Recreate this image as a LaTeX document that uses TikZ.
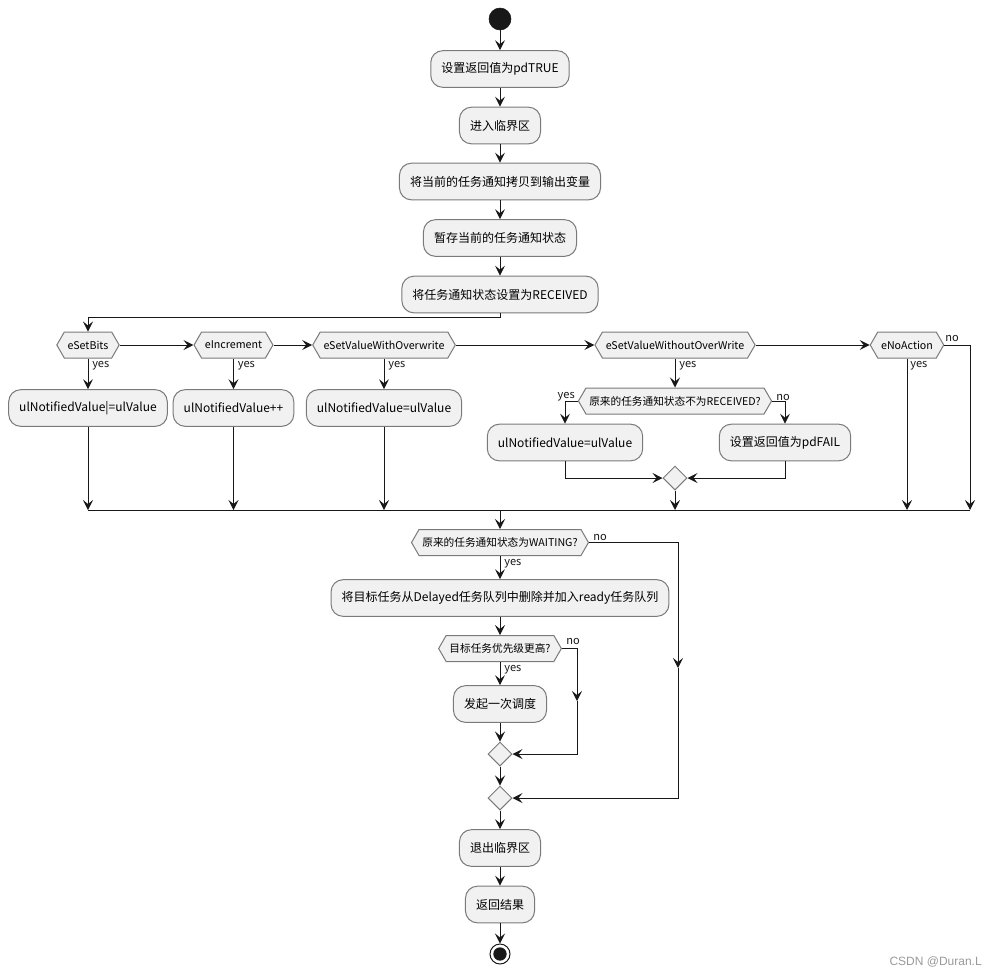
\documentclass[tikz,border=0pt]{standalone}
\usepackage{fontspec}
\setmainfont{Noto Sans CJK SC}
\newfontfamily\wmfont{Liberation Sans}
\usetikzlibrary{shapes.symbols,shapes.geometric,arrows.meta}
\definecolor{boxfill}{HTML}{F1F1F1}
\definecolor{boxline}{HTML}{7A7A7A}
\definecolor{lineclr}{HTML}{181818}
\definecolor{wmclr}{HTML}{9A9A9A}
\begin{document}
\begin{tikzpicture}[x=0.75pt,y=-0.75pt,
  >={Stealth[length=7.5pt,width=7.5pt,inset=3pt]},
  flow/.style={draw=lineclr,line width=0.75pt},
  act/.style={draw=boxline,fill=boxfill,rounded corners=9pt,line width=0.75pt,minimum height=27.5pt,inner xsep=7.9pt,inner ysep=0pt,font=\fontsize{9pt}{11pt}\selectfont},
  hexa/.style={shape=signal,signal to=east and west,signal pointer angle=120,draw=boxline,fill=boxfill,line width=0.75pt,minimum height=19.5pt,inner xsep=2.5pt,inner ysep=0pt,font=\fontsize{8pt}{10pt}\selectfont},
  merge/.style={shape=diamond,aspect=1,draw=boxline,fill=boxfill,line width=0.75pt,minimum width=18pt,minimum height=18pt,inner sep=0pt},
  lbl/.style={inner sep=0pt,font=\fontsize{8.3pt}{10pt}\selectfont,text=lineclr},
  startdot/.style={circle,fill=lineclr,draw=lineclr,minimum size=16.5pt,inner sep=0pt},
]
\useasboundingbox[fill=white] (0,0) rectangle (996,976);

% main column
\node[startdot] (start) at (500,19) {};
\node[act] (b1) at (500,69) {设置返回值为pdTRUE};
\node[act] (b2) at (500,125.5) {进入临界区};
\node[act] (b3) at (500,181.5) {将当前的任务通知拷贝到输出变量};
\node[act] (b4) at (500,238) {暂存当前的任务通知状态};
\node[act] (b5) at (500,294.5) {将任务通知状态设置为RECEIVED};

% switch
\node[hexa] (s1) at (88,345) {eSetBits};
\node[hexa] (s2) at (233.5,345) {eIncrement};
\node[hexa] (s3) at (384,345) {eSetValueWithOverwrite};
\node[hexa] (s4) at (675,345) {eSetValueWithoutOverWrite};
\node[hexa] (s5) at (907,345) {eNoAction};

\node[act] (a1) at (88,408) {ulNotifiedValue|=ulValue};
\node[act] (a2) at (233.5,408) {ulNotifiedValue++};
\node[act] (a3) at (384,408) {ulNotifiedValue=ulValue};

\node[hexa] (r) at (675,401) {原来的任务通知状态不为RECEIVED?};
\node[act] (c1) at (565,442.5) {ulNotifiedValue=ulValue};
\node[act] (c2) at (785,442.5) {设置返回值为pdFAIL};
\node[merge] (m1) at (675,478) {};

\coordinate (k1) at (88,317);
\coordinate (j1) at (88,510);
\coordinate (j2) at (233.5,510);
\coordinate (j3) at (384,510);
\coordinate (j4) at (675,510);
\coordinate (j5) at (907,510);
\coordinate (j6) at (970,510);
\coordinate (jm) at (500,510);

\node[hexa] (w) at (500,542.5) {原来的任务通知状态为WAITING?};
\node[act] (d) at (500,598) {将目标任务从Delayed任务队列中删除并加入ready任务队列};
\node[hexa] (p) at (500,648.5) {目标任务优先级更高?};
\node[act] (e) at (500,704) {发起一次调度};
\node[merge] (m2) at (500,754) {};
\node[merge] (m3) at (500,798) {};
\node[act] (f) at (500,848) {退出临界区};
\node[act] (g) at (500,904.5) {返回结果};
\node[circle,draw=lineclr,fill=white,line width=0.75pt,minimum size=15pt,inner sep=0pt] (end) at (500,954) {};
\node[circle,fill=lineclr,minimum size=10pt,inner sep=0pt] (endin) at (500,954) {};

\coordinate (wm) at (678,668);
\coordinate (pm) at (577,701);

% connectors
\draw[flow,->] (start) -- (b1);
\draw[flow,->] (b1) -- (b2);
\draw[flow,->] (b2) -- (b3);
\draw[flow,->] (b3) -- (b4);
\draw[flow,->] (b4) -- (b5);
\draw[flow,->] (b5.south) |- (k1) -- (s1.north);

\draw[flow,->] (s1.east) -- (s2.west);
\draw[flow,->] (s2.east) -- (s3.west);
\draw[flow,->] (s3.east) -- (s4.west);
\draw[flow,->] (s4.east) -- (s5.west);

\draw[flow,->] (s1.south) -- (a1.north);
\draw[flow,->] (s2.south) -- (a2.north);
\draw[flow,->] (s3.south) -- (a3.north);
\draw[flow,->] (s4.south) -- (r.north);

\draw[flow,->] (r.west) -| (c1.north);
\draw[flow,->] (r.east) -| (c2.north);
\draw[flow,->] (c1.south) |- (m1.west);
\draw[flow,->] (c2.south) |- (m1.east);

\draw[flow,->] (a1.south) -- (j1);
\draw[flow,->] (a2.south) -- (j2);
\draw[flow,->] (a3.south) -- (j3);
\draw[flow,->] (m1.south) -- (j4);
\draw[flow,->] (s5.south) -- (j5);
\draw[flow,->] (s5.east) -| (j6);
\draw[flow] (j1) -- (j6);

\draw[flow,->] (jm) -- (w.north);
\draw[flow,->] (w.south) -- (d.north);
\draw[flow,->] (d.south) -- (p.north);
\draw[flow,->] (p.south) -- (e.north);
\draw[flow,->] (e.south) -- (m2.north);
\draw[flow,->] (m2.south) -- (m3.north);
\draw[flow,->] (m3.south) -- (f.north);
\draw[flow,->] (f.south) -- (g.north);
\draw[flow,->] (g.south) -- (end.north);

\draw[flow,->] (w.east) -| (wm);
\draw[flow,->] (wm) |- (m3.east);
\draw[flow,->] (p.east) -| (pm);
\draw[flow,->] (pm) |- (m2.east);

% labels
\node[lbl,anchor=west] (l1) at (92,366) {yes};
\node[lbl,anchor=west] (l2) at (237.5,366) {yes};
\node[lbl,anchor=west] (l3) at (388,366) {yes};
\node[lbl,anchor=west] (l4) at (679,366) {yes};
\node[lbl,anchor=west] (l5) at (910,366) {yes};
\node[lbl,anchor=west] (l6) at (945,338) {no};
\node[lbl,anchor=east] (l7) at (575,397) {yes};
\node[lbl,anchor=west] (l8) at (776,397) {no};
\node[lbl,anchor=west] (l9) at (593,537) {no};
\node[lbl,anchor=west] (l10) at (504,564) {yes};
\node[lbl,anchor=west] (l11) at (566,641) {no};
\node[lbl,anchor=west] (l12) at (504,670) {yes};

\node[anchor=east,inner sep=0pt,text=wmclr,font=\wmfont\fontsize{9pt}{11pt}\selectfont] (wmk) at (982,962) {CSDN @Duran.L};
\end{tikzpicture}
\end{document}
